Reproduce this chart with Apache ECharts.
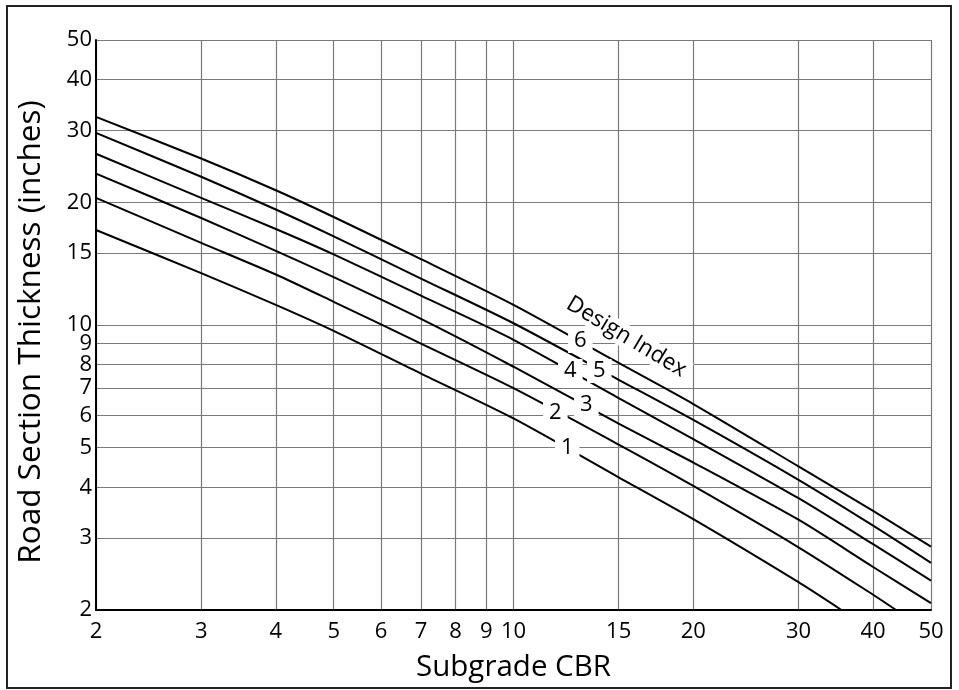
<!DOCTYPE html>
<html><head><meta charset="utf-8">
<script src="https://cdn.jsdelivr.net/npm/echarts@6/dist/echarts.min.js"></script>
<style>html,body{margin:0;padding:0;background:#fff}#c{width:959px;height:690px}</style>
</head><body><div id="c"></div>
<script>
// Subgrade CBR sample positions (x) and road section thickness (inches) per design index
const cbr = [2, 3, 4, 5, 7, 10, 15, 20, 30, 35.4, 40, 43.7, 50];
const di1 = [17.1, 13.4, 11.2, 9.67, 7.6, 5.9, 4.23, 3.34, 2.34, 2.0, null, null, null];
const di2 = [20.5, 15.9, 13.3, 11.4, 9.0, 7.0, 5.09, 4.03, 2.85, null, 2.18, 2.0, null];
const di3 = [23.5, 18.3, 15.2, 13.1, 10.35, 7.9, 5.73, 4.6, 3.33, null, 2.55, null, 2.08];
const di4 = [26.3, 20.5, 17.2, 14.9, 11.8, 9.2, 6.62, 5.25, 3.76, null, 2.9, null, 2.36];
const di5 = [29.6, 23.1, 19.2, 16.5, 13.0, 10.1, 7.34, 5.85, 4.17, null, 3.22, null, 2.61];
const di6 = [32.4, 25.6, 21.4, 18.4, 14.5, 11.2, 8.07, 6.4, 4.5, null, 3.5, null, 2.86];
const seriesNames = ['1', '2', '3', '4', '5', '6'];

const xTicks = [2, 3, 4, 5, 6, 7, 8, 9, 10, 15, 20, 30, 40, 50];
const yTicks = [2, 3, 4, 5, 6, 7, 8, 9, 10, 15, 20, 30, 40, 50];

// curve label anchors (CBR, thickness)
const labelCbr = [12.3, 11.75, 13.24, 12.45, 13.92, 12.94];
const labelThk = [4.99, 6.08, 6.37, 7.71, 7.71, 9.14];
const titleText = ['Design Index'];
const titleCbr = [15.45];
const titleThk = [9.35];

const lg = Math.log10;
const FONT = 'Open Sans';
function pairs(vals) {
  const out = [];
  cbr.forEach((c, i) => { if (vals[i] != null) out.push([lg(c), lg(vals[i])]); });
  return out;
}
const allCurves = [di1, di2, di3, di4, di5, di6];

const series = allCurves.map((vals, i) => ({
  name: 'DI ' + seriesNames[i],
  type: 'line',
  data: pairs(vals),
  symbol: 'none',
  smooth: 0.25,
  lineStyle: { color: '#000', width: 2 },
  z: 3,
  silent: true
}));

series.push({
  type: 'scatter',
  data: labelCbr.map((c, i) => [lg(c), lg(labelThk[i])]),
  symbolSize: 1,
  itemStyle: { color: 'rgba(0,0,0,0)', opacity: 1 },
  z: 10,
  silent: true,
  label: {
    show: true, position: 'inside', opacity: 1,
    formatter: p => seriesNames[p.dataIndex],
    fontFamily: FONT, fontSize: 22, color: '#000',
    textBorderWidth: 0,
    backgroundColor: '#fff', padding: [1, 6]
  }
});
series.push({
  type: 'scatter',
  data: titleCbr.map((c, i) => [lg(c), lg(titleThk[i])]),
  symbolSize: 1,
  itemStyle: { color: 'rgba(0,0,0,0)', opacity: 1 },
  z: 10,
  silent: true,
  label: {
    show: true, position: 'inside', rotate: -31, opacity: 1,
    formatter: p => titleText[p.dataIndex],
    fontFamily: FONT, fontSize: 22.5, color: '#000',
    textBorderWidth: 0,
    backgroundColor: '#fff', padding: [0, 4]
  }
});

const fmt = v => String(Math.round(Math.pow(10, v)));

const chart = echarts.init(document.getElementById('c'), null, { renderer: 'canvas' });
chart.setOption({
  animation: false,
  backgroundColor: '#fff',
  grid: { left: 96, right: 28, top: 40, bottom: 80, containLabel: false, outerBoundsMode: 'none' },
  xAxis: {
    type: 'value',
    min: lg(xTicks[0]), max: lg(xTicks[xTicks.length - 1]),
    name: 'Subgrade CBR', nameLocation: 'middle', nameGap: 43,
    nameTextStyle: { fontFamily: FONT, fontSize: 29.5, color: '#000', lineHeight: 30 },
    axisLine: { show: true, lineStyle: { color: '#000', width: 2 } },
    axisTick: { show: false, customValues: xTicks.map(lg) },
    axisLabel: { customValues: xTicks.map(lg), formatter: fmt, margin: 11,
      fontFamily: FONT, fontSize: 22, color: '#000', lineHeight: 22 },
    splitLine: { show: true, lineStyle: { color: '#7a7a7a', width: 1.2 } }
  },
  yAxis: {
    type: 'value',
    min: lg(yTicks[0]), max: lg(yTicks[yTicks.length - 1]),
    name: 'Road Section Thickness (inches)', nameLocation: 'middle', nameGap: 49,
    nameTextStyle: { fontFamily: FONT, fontSize: 31.5, color: '#000', lineHeight: 32, padding: [0, 14, 0, 0] },
    axisLine: { show: true, lineStyle: { color: '#000', width: 2 } },
    axisTick: { show: false, customValues: yTicks.map(lg) },
    axisLabel: { customValues: yTicks.map(lg), formatter: fmt, margin: 4,
      fontFamily: FONT, fontSize: 22, color: '#000', lineHeight: 22 },
    splitLine: { show: true, lineStyle: { color: '#7a7a7a', width: 1.2 } }
  },
  graphic: [{
    type: 'rect', silent: true, z: 100,
    shape: { x: 7, y: 6, width: 944, height: 682 },
    style: { fill: 'none', stroke: '#222', lineWidth: 2 }
  }],
  series: series
});
</script>
</body></html>
